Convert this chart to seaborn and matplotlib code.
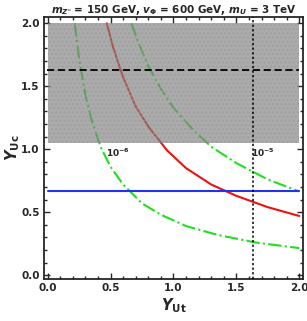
import numpy as np
import pandas as pd
import matplotlib
matplotlib.use("Agg")
import matplotlib.pyplot as plt
from matplotlib.ticker import MultipleLocator
import seaborn as sns

# curves
red_x = [0.47, 0.52, 0.6, 0.7, 0.8, 0.95, 1.1, 1.3, 1.5, 1.75, 2.0]
red_y = [2.0, 1.81, 1.57, 1.34, 1.18, 0.99, 0.85, 0.72, 0.63, 0.54, 0.47]
g6_x = [0.215, 0.25, 0.3, 0.35, 0.42, 0.5, 0.6, 0.75, 0.9, 1.1, 1.35, 1.65, 2.0]
g6_y = [2.0, 1.72, 1.43, 1.23, 1.02, 0.86, 0.72, 0.57, 0.48, 0.39, 0.32, 0.26, 0.215]
g5_x = [0.665, 0.72, 0.8, 0.9, 1.0, 1.15, 1.3, 1.5, 1.75, 2.0]
g5_y = [2.0, 1.85, 1.66, 1.48, 1.33, 1.16, 1.02, 0.89, 0.76, 0.665]
blue_y = 0.667
band_lo, band_hi = 1.05, 2.0
ref_x, ref_y = 1.63, 1.63
labels = [r"$\mathbf{10^{-6}}$", r"$\mathbf{10^{-5}}$"]
label_pos = [(0.56, 0.97), (1.71, 0.97)]

sns.set_style("ticks")
fig = plt.figure(figsize=(3.07, 3.21), dpi=100)
ax = fig.add_axes([0.143, 0.131, 0.844, 0.816])

sns.lineplot(x=g6_x, y=g6_y, ax=ax, color="#22dd22", lw=1.5, linestyle="-.", sort=False)
sns.lineplot(x=g5_x, y=g5_y, ax=ax, color="#22dd22", lw=1.5, linestyle="-.", sort=False)
sns.lineplot(x=red_x, y=red_y, ax=ax, color="#ee1111", lw=1.5, sort=False)
sns.lineplot(x=[0, 2], y=[blue_y, blue_y], ax=ax, color="#2233ee", lw=1.5)

ax.fill_between([0, 2], band_lo, band_hi, facecolor="#7f7f7f", alpha=0.65,
                hatch="....", edgecolor="#9a9a9a", linewidth=0, zorder=3)
ax.axhline(ref_y, xmin=0.013, xmax=0.985, color="black", ls=(0, (4, 2)), lw=1.3, zorder=4)
ax.axvline(ref_x, color="black", ls=(0, (1.5, 1.5)), lw=1.1, zorder=4)

for t, (px, py) in zip(labels, label_pos):
    ax.text(px, py, t, fontsize=6.5, ha="center", va="center", zorder=5)

ax.set_xlim(-0.03, 2.03)
ax.set_ylim(-0.03, 2.05)
ax.xaxis.set_major_locator(MultipleLocator(0.5))
ax.yaxis.set_major_locator(MultipleLocator(0.5))
ax.xaxis.set_minor_locator(MultipleLocator(0.1))
ax.yaxis.set_minor_locator(MultipleLocator(0.1))
ax.tick_params(which="both", direction="in", top=True, right=True, width=1.0)
ax.tick_params(which="major", length=4, labelsize=7.5, pad=3)
ax.tick_params(which="minor", length=2)
for lab in ax.get_xticklabels() + ax.get_yticklabels():
    lab.set_fontweight("bold")
for s in ax.spines.values():
    s.set_linewidth(1.3)

ax.set_xlabel(r"$\mathbfit{Y}_{\mathbf{Ut}}$", fontsize=10.5)
ax.set_ylabel(r"$\mathbfit{Y}_{\mathbf{Uc}}$", fontsize=10.5)
ax.xaxis.set_label_coords(0.5, -0.065)
ax.yaxis.set_label_coords(-0.085, 0.5)
ax.set_title(r"$\mathbfit{m}_{\mathbfit{Z'}}$ = 150 GeV, $\mathbfit{v}_{\mathbf{\Phi}}$ = 600 GeV, $\mathbfit{m}_{\mathbfit{U}}$ = 3 TeV",
             fontsize=7.5, fontweight="bold", pad=3)

fig.savefig("out.png", dpi=100)
